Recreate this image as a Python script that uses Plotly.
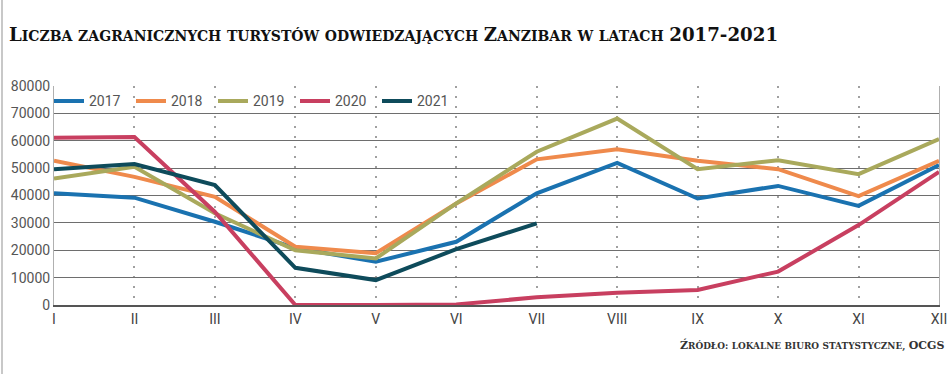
import plotly.graph_objects as go

months = ["I", "II", "III", "IV", "V", "VI", "VII", "VIII", "IX", "X", "XI", "XII"]
y2017 = [40800, 39200, 30400, 20800, 15800, 23100, 40800, 51900, 38900, 43500, 36200, 51100]
y2018 = [52700, 46800, 39500, 21300, 18900, 37100, 53200, 56900, 52700, 49600, 39800, 52700]
y2019 = [46200, 50500, 33500, 20000, 17000, 37100, 56000, 68100, 49600, 52900, 47800, 60600]
y2020 = [61100, 61400, 34000, 0, 0, 200, 2800, 4500, 5500, 12200, 29200, 48600]
y2021 = [49600, 51500, 43800, 13600, 9100, 20400, 29800]
yticks = [0, 10000, 20000, 30000, 40000, 50000, 60000, 70000, 80000]

series = [
    ("2017", y2017, "#1a72b0"),
    ("2018", y2018, "#ef8a4c"),
    ("2019", y2019, "#a9a95c"),
    ("2020", y2020, "#c83f60"),
    ("2021", y2021, "#0e4b5b"),
]

fig = go.Figure()
for name, vals, col in series:
    fig.add_trace(go.Scatter(
        x=list(range(len(vals))), y=vals, name=name, mode="lines",
        line=dict(color=col, width=4),
    ))


def smallcaps(text, big, small):
    out = []
    for ch in text:
        if ch.isupper() or ch.isdigit() or ch in "-":
            out.append(f'<span style="font-size:{big}px">{ch}</span>')
        elif ch == " ":
            out.append(" ")
        else:
            out.append(f'<span style="font-size:{small}px">{ch.upper()}</span>')
    return "".join(out)


title = smallcaps("Liczba zagranicznych turystów odwiedzających Zanzibar w latach 2017-2021", 18.2, 14)
source = smallcaps("Źródło: lokalne biuro statystyczne, OCGS", 11, 8.9)

fig.update_layout(
    width=948, height=374,
    margin=dict(l=54, r=9, t=86, b=69, autoexpand=False),
    paper_bgcolor="white", plot_bgcolor="white",
    showlegend=True,
    legend=dict(
        orientation="h", x=-5 / 885, y=0.93, xanchor="left", yanchor="middle",
        bgcolor="rgba(0,0,0,0)", font=dict(family="Roboto", size=14, color="#555"),
        entrywidth=37, entrywidthmode="pixels", itemwidth=30,
    ),
    xaxis=dict(
        range=[0, 11], tickmode="array", tickvals=list(range(12)), ticktext=months,
        showgrid=True, gridcolor="#a0a0a0", gridwidth=1.5, griddash="2px,8px",
        showline=True, linecolor="#555", linewidth=1.5,
        ticks="", tickfont=dict(family="Roboto", size=14, color="#444"),
        zeroline=False, fixedrange=True,
    ),
    yaxis=dict(
        range=[0, 80000], tickmode="array", tickvals=yticks,
        ticktext=[str(v) for v in yticks],
        showgrid=True, gridcolor="#6e6e6e", gridwidth=1,
        showline=True, mirror=True, linecolor="#b0b0b0", linewidth=1,
        ticks="", tickfont=dict(family="Roboto", size=14, color="#555"),
        zeroline=False, fixedrange=True,
    ),
    annotations=[
        dict(text=title, xref="paper", yref="paper", x=(7 - 54) / 885, y=(305 - 35) / 219,
             xanchor="left", yanchor="middle", showarrow=False,
             font=dict(family="DejaVu Serif", size=16, color="#111", weight="bold")),
        dict(text=source, xref="paper", yref="paper", x=(946 - 54) / 885, y=-(345 - 305) / 219,
             xanchor="right", yanchor="middle", showarrow=False,
             font=dict(family="DejaVu Serif", size=10, color="#333", weight="bold")),
    ],
    shapes=[
        dict(type="line", xref="paper", yref="paper", x0=(2 - 54) / 885, x1=(2 - 54) / 885,
             y0=-69 / 219, y1=(219 + 86) / 219, line=dict(color="#c8c8c8", width=2)),
    ],
)

fig.write_html("out.html", config={"displayModeBar": False},
               post_script="document.body.style.margin='0px';document.body.style.padding='0px';")
